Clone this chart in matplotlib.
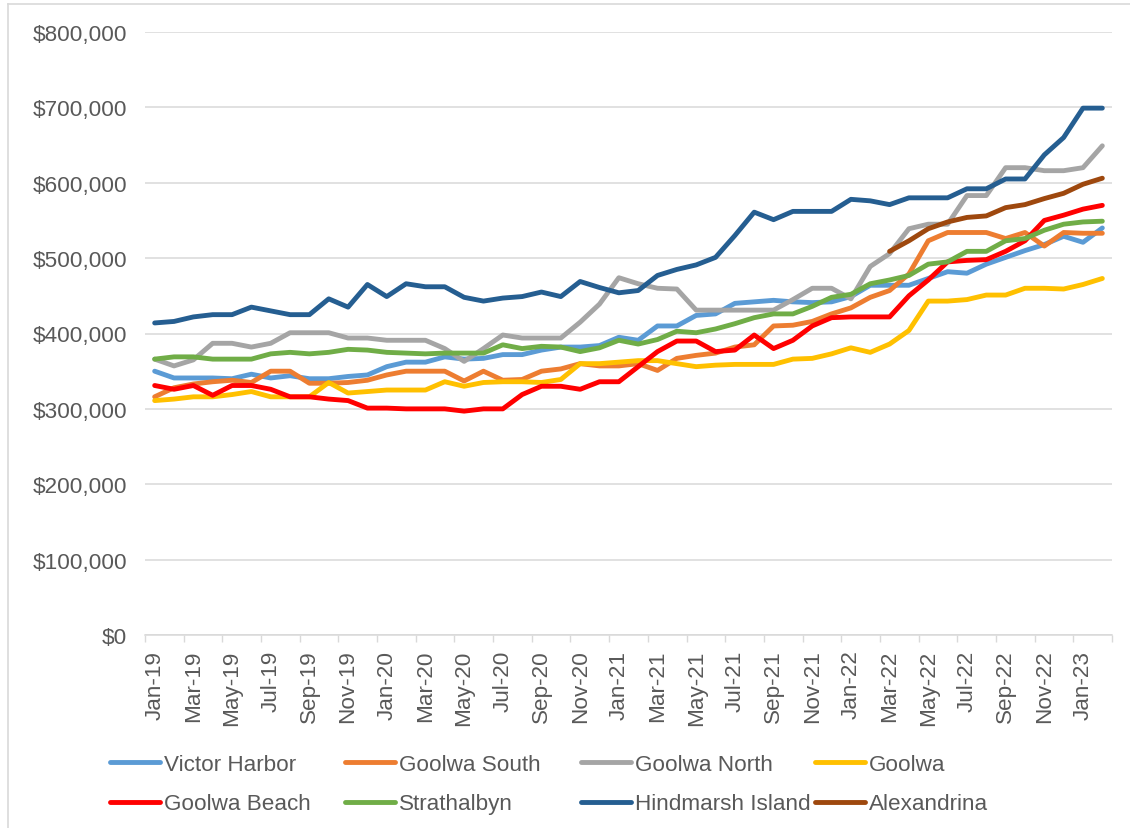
import numpy as np
import pandas as pd
import matplotlib
matplotlib.use("Agg")
import matplotlib.pyplot as plt
from matplotlib.lines import Line2D
from matplotlib.ticker import FuncFormatter

plt.rcParams['font.family'] = ['Liberation Sans', 'DejaVu Sans']

# ---- data (values in $ thousands) ----
months = list(pd.date_range('2019-01-01', periods=50, freq='MS').strftime('%b-%y'))

victor_harbor = [350, 341, 341, 341, 340, 346, 341, 344, 340, 340, 343, 345, 356, 362, 362, 369, 366, 367, 372, 372,
                 378, 382, 382, 384, 395, 391, 410, 410, 424, 426, 440, 442, 444, 442, 441, 442, 449, 464, 464, 464,
                 473, 482, 480, 492, 501, 510, 518, 529, 521, 540]
goolwa_south = [316, 328, 333, 336, 338, 335, 350, 350, 334, 334, 335, 338, 345, 350, 350, 350, 337, 350, 338, 339,
                350, 353, 360, 357, 357, 360, 351, 367, 371, 374, 382, 385, 410, 411, 416, 426, 434, 448, 457, 479,
                523, 534, 534, 534, 526, 534, 516, 534, 533, 533]
goolwa_north = [366, 357, 365, 387, 387, 382, 387, 401, 401, 401, 394, 394, 391, 391, 391, 380, 363, 380, 398, 394,
                394, 394, 415, 439, 474, 466, 460, 459, 431, 431, 431, 431, 431, 445, 460, 460, 446, 489, 506, 539,
                545, 545, 583, 583, 620, 620, 616, 616, 620, 649]
goolwa = [311, 313, 316, 316, 319, 323, 316, 316, 316, 335, 321, 323, 325, 325, 325, 336, 330, 335, 336, 336,
          335, 339, 360, 360, 362, 364, 364, 360, 356, 358, 359, 359, 359, 366, 367, 373, 381, 375, 386, 404,
          443, 443, 445, 451, 451, 460, 460, 459, 465, 473]
goolwa_beach = [331, 326, 331, 318, 331, 331, 326, 316, 316, 313, 311, 301, 301, 300, 300, 300, 297, 300, 300, 319,
                330, 330, 326, 336, 336, 356, 376, 390, 390, 376, 378, 398, 380, 391, 410, 421, 422, 422, 422, 450,
                471, 495, 497, 498, 509, 523, 550, 557, 565, 570]
strathalbyn = [366, 369, 369, 366, 366, 366, 373, 375, 373, 375, 379, 378, 375, 374, 373, 374, 374, 374, 385, 380,
               383, 382, 376, 381, 391, 386, 392, 403, 401, 406, 413, 421, 426, 426, 436, 448, 452, 466, 471, 477,
               492, 495, 509, 509, 523, 526, 537, 545, 548, 549]
hindmarsh_island = [414, 416, 422, 425, 425, 435, 430, 425, 425, 446, 435, 465, 449, 466, 462, 462, 448, 443, 447, 449,
                    455, 449, 469, 461, 454, 457, 477, 485, 491, 501, 530, 561, 551, 562, 562, 562, 578, 576, 571, 580,
                    580, 580, 592, 592, 605, 605, 637, 660, 699, 699]
alexandrina = [np.nan] * 38 + [509, 523, 539, 548, 554, 556, 567, 571, 579, 586, 598, 606]

series_names = ['Victor Harbor', 'Goolwa South', 'Goolwa North', 'Goolwa',
                'Goolwa Beach', 'Strathalbyn', 'Hindmarsh Island', 'Alexandrina']
series_values = [victor_harbor, goolwa_south, goolwa_north, goolwa,
                 goolwa_beach, strathalbyn, hindmarsh_island, alexandrina]
series_colors = ['#5B9BD5', '#ED7D31', '#A5A5A5', '#FFC000',
                 '#FF0000', '#70AD47', '#255E91', '#9E480E']

# ---- figure ----
W, H = 1130, 829
fig = plt.figure(figsize=(W / 100, H / 100), dpi=100)
ax = fig.add_axes([145 / W, 1 - 636 / H, (1112 - 145) / W, (636 - 33) / H])

x = np.arange(len(months))
handles = []
for name, vals, col in zip(series_names, series_values, series_colors):
    h, = ax.plot(x, np.array(vals, dtype=float) * 1000, color=col, lw=3.5,
                 solid_capstyle='round', solid_joinstyle='round', label=name)
    handles.append(h)

txt_col = '#595959'
grid_col = '#D9D9D9'
fs = 16.2

ax.set_ylim(0, 800000)
ax.set_yticks(np.arange(0, 800001, 100000))
ax.yaxis.set_major_formatter(FuncFormatter(lambda v, p: f"${v:,.0f}"))
ax.set_xlim(-0.5, len(months) - 0.5)
ax.set_xticks(x[::2])
ax.set_xticklabels(months[::2], rotation=90)
ax.set_xticks(np.arange(-0.5, len(months), 2), minor=True)

ax.tick_params(axis='y', length=0, pad=13, labelsize=fs, labelcolor=txt_col)
ax.tick_params(axis='x', which='major', length=0, pad=10.5, labelsize=fs, labelcolor=txt_col)
ax.tick_params(axis='x', which='minor', length=5, width=1, color=grid_col, direction='out')

ax.yaxis.grid(True, color=grid_col, lw=1.1)
ax.set_axisbelow(True)
for s in ['top', 'right', 'left']:
    ax.spines[s].set_visible(False)
ax.spines['bottom'].set_color(grid_col)
ax.spines['bottom'].set_linewidth(1.1)

# legend: 4 columns, 2 rows
col_x = [110, 345, 581, 815]
for j in range(4):
    leg = fig.legend(handles=[handles[j], handles[j + 4]], loc='upper left',
                     bbox_to_anchor=(col_x[j] / W, 1 - 755 / H), frameon=False,
                     fontsize=fs, handlelength=2.2, handletextpad=0.18,
                     labelspacing=0.82, borderpad=0, borderaxespad=0)
    for t in leg.get_texts():
        t.set_color(txt_col)

# chart frame
fig.add_artist(Line2D([8 / W, 8 / W], [0, 1 - 5 / H], color=grid_col, lw=1.2))
fig.add_artist(Line2D([8 / W, 1], [1 - 5 / H, 1 - 5 / H], color=grid_col, lw=1.2))

fig.savefig('out.png', dpi=100)
